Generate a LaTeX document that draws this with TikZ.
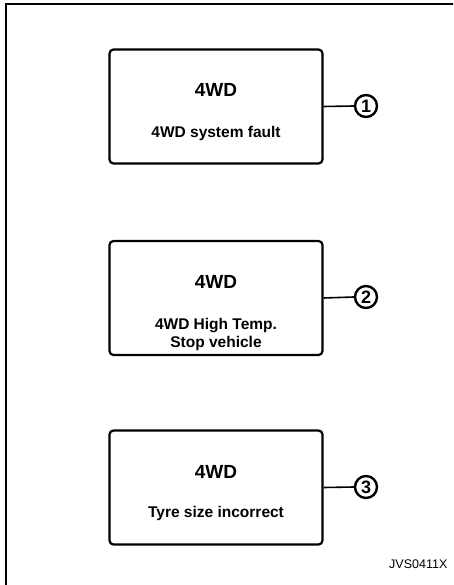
\documentclass[tikz,border=0pt]{standalone}
\usepackage{fontspec}
\setmainfont{Liberation Sans}
\begin{document}
\begin{tikzpicture}[x=1pt,y=-1pt,
  panel/.style={draw, line width=2.2pt, rounded corners=4pt, minimum width=213pt, minimum height=114pt, inner sep=0pt},
  title/.style={font=\bfseries\fontsize{19}{20}\selectfont},
  msg/.style={font=\bfseries\fontsize{15.5}{17.5}\selectfont, align=center},
  num/.style={draw, circle, line width=2.4pt, minimum size=22pt, inner sep=0pt, font=\bfseries\fontsize{18}{18}\selectfont},
  link/.style={line width=1.6pt}]
\useasboundingbox (0,0) rectangle (453,585);
\clip (0,0) rectangle (453,585);
\draw[line width=2.2pt] (6,600) -- (6,4) -- (470,4);
% panels
\node[panel] (p1) at (216,106.5) {};
\node[panel] (p2) at (216,298) {};
\node[panel] (p3) at (216,487.5) {};
\node[title] (t1) at (216,90) {4WD};
\node[msg] (m1) at (216,133) {4WD system fault};
\node[title] (t2) at (216,282) {4WD};
\node[msg] (m2) at (216,334.5) {4WD High Temp.\\Stop vehicle};
\node[title] (t3) at (216,472) {4WD};
\node[msg] (m3) at (216,513) {Tyre size incorrect};
\node[num] (n1) at (366,106) {1};
\node[num] (n2) at (366,297) {2};
\node[num] (n3) at (366,487) {3};
\draw[link] (p1.east) -- (n1.west);
\draw[link] (p2.east) -- (n2.west);
\draw[link] (p3.east) -- (n3.west);
\node[anchor=base west, font=\fontsize{12.5}{14}\selectfont, inner sep=0pt] (code) at (389,568) {JVS0411X};
\end{tikzpicture}
\end{document}
